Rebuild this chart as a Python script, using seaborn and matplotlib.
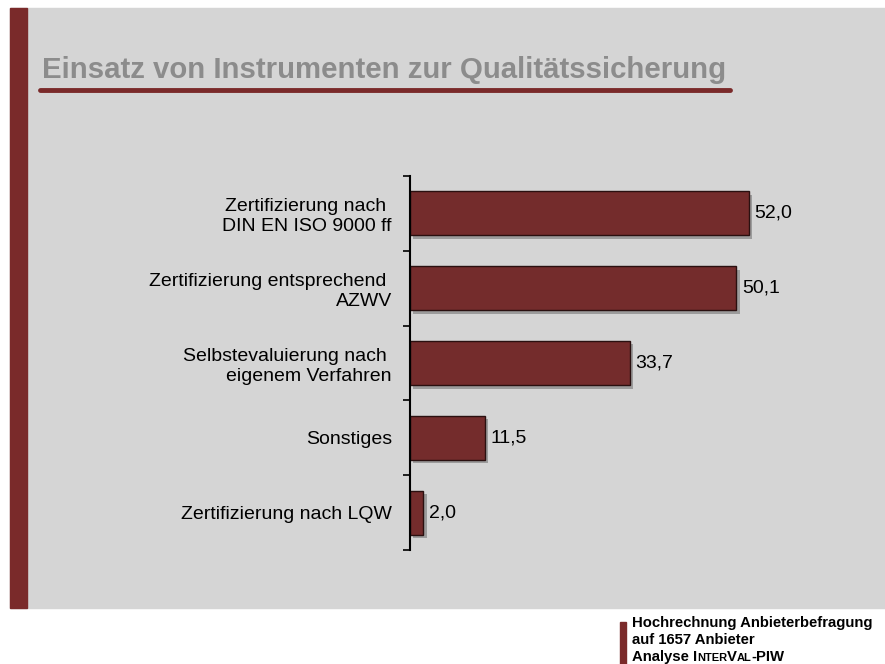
"""
Einsatz von Instrumenten zur Qualitaetssicherung - horizontal bar chart.
"""
import matplotlib
matplotlib.use("Agg")
import matplotlib.pyplot as plt
import matplotlib.patheffects as pe
from matplotlib.patches import Rectangle
from matplotlib.lines import Line2D
import pandas as pd
import seaborn as sns

categories = ["Zertifizierung nach \nDIN EN ISO 9000 ff",
              "Zertifizierung entsprechend \nAZWV",
              "Selbstevaluierung nach \neigenem Verfahren",
              "Sonstiges",
              "Zertifizierung nach LQW"]
values = [52.0, 50.1, 33.7, 11.5, 2.0]
value_labels = ["52,0", "50,1", "33,7", "11,5", "2,0"]

title = "Einsatz von Instrumenten zur Qualitätssicherung"
footer_lines = ["Hochrechnung Anbieterbefragung", "auf 1657 Anbieter"]

BAR_RED = "#742c2c"
FRAME_RED = "#7a2a2a"
GRAY_BG = "#d5d5d5"

sns.set_theme(style="white")
plt.rcParams["font.family"] = ["Liberation Sans", "DejaVu Sans"]

W, H = 885, 664
fig = plt.figure(figsize=(W / 100, H / 100), dpi=100)
fig.patch.set_facecolor("white")

# slide background and left red stripe
fig.patches.append(Rectangle((10 / W, 1 - 608 / H), 1 - 10 / W, 600 / H,
                             transform=fig.transFigure, color=GRAY_BG,
                             zorder=-10))
fig.patches.append(Rectangle((10 / W, 1 - 608 / H), 17 / W, 600 / H,
                             transform=fig.transFigure, color=FRAME_RED,
                             zorder=-9))

# title and underline
fig.text(42 / W, 1 - 78 / H, title, fontsize=21.2, weight="bold",
         color="#8c8c8c", va="baseline", ha="left")
fig.lines.append(Line2D([40 / W, 730 / W], [1 - 90 / H, 1 - 90 / H],
                        transform=fig.transFigure, color=FRAME_RED, lw=3.5))

# chart
ax = fig.add_axes([410 / W, 1 - 550 / H, 391 / W, 374 / H])
ax.set_facecolor("none")
df = pd.DataFrame({"Instrument": categories, "Wert": values})
sns.barplot(data=df, x="Wert", y="Instrument", orient="h", color=BAR_RED,
            saturation=1, width=0.59, edgecolor="#2a1010", linewidth=1,
            ax=ax)
for bar in ax.patches:
    bar.set_path_effects([pe.SimplePatchShadow(offset=(2.5, -2.5),
                                               shadow_rgbFace="#777777",
                                               alpha=0.6),
                          pe.Normal()])
ax.bar_label(ax.containers[0], labels=value_labels, padding=4, fontsize=14,
             color="black")

ax.set_xlim(0, 60)
ax.set_ylim(4.5, -0.5)
ax.set_xlabel("")
ax.set_ylabel("")
ax.set_xticks([])
ax.tick_params(axis="y", which="major", length=0, pad=13, labelsize=14,
               labelcolor="black")
ax.set_yticks([-0.5, 0.5, 1.5, 2.5, 3.5, 4.5], minor=True)
ax.tick_params(axis="y", which="minor", length=5, width=1.2,
               color="black", direction="out", left=True)
for lab in ax.get_yticklabels():
    lab.set_horizontalalignment("right")
    lab.set_multialignment("right")
for side in ["top", "right", "bottom"]:
    ax.spines[side].set_visible(False)
ax.spines["left"].set_color("black")
ax.spines["left"].set_linewidth(1.5)

# footer
fig.patches.append(Rectangle((620 / W, 0), 6 / W, 42 / H,
                             transform=fig.transFigure, color=FRAME_RED))
fig.text(632 / W, 1 - 627 / H, footer_lines[0], fontsize=10.7, weight="bold",
         color="black", va="baseline")
fig.text(632 / W, 1 - 644 / H, footer_lines[1], fontsize=10.7, weight="bold",
         color="black", va="baseline")
renderer = fig.canvas.get_renderer()
x = 632 / W
for piece, size in [("Analyse I", 10.7), ("NTER", 8), ("V", 10.7),
                    ("AL", 8), ("-PIW", 10.7)]:
    t = fig.text(x, 1 - 661 / H, piece, fontsize=size, weight="bold",
                 color="black", va="baseline")
    bb = t.get_window_extent(renderer)
    x = bb.x1 / fig.bbox.width

fig.savefig("out.png", dpi=100)
